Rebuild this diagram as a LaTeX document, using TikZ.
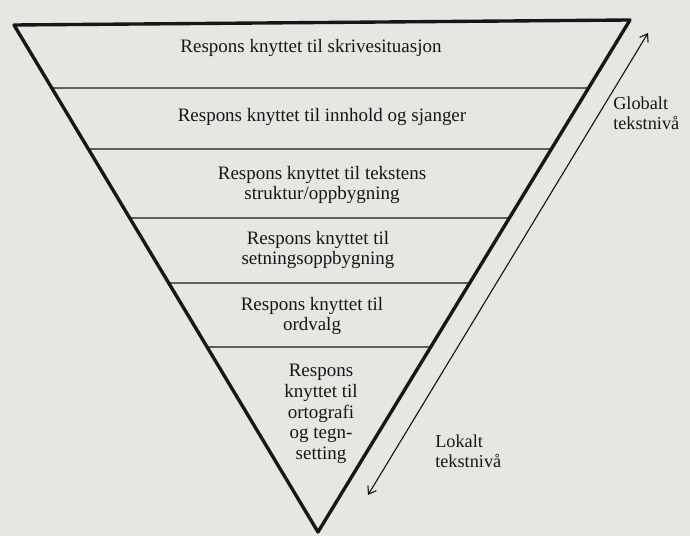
\documentclass[tikz,border=0pt]{standalone}
\usepackage{fontspec}
\setmainfont{Liberation Serif}
\usetikzlibrary{calc,arrows.meta}
\definecolor{paper}{RGB}{230,230,227}
\definecolor{ink}{RGB}{22,22,22}

\begin{document}
\begin{tikzpicture}[x=0.025cm,y=-0.025cm,>={Straight Barb[length=5pt,width=7pt]},line join=round,line cap=round,
  lvl/.style={align=center,font=\fontsize{13.5}{14.8}\selectfont,text=ink,inner sep=0pt},
  side/.style={align=left,font=\fontsize{13}{14}\selectfont,text=ink,inner sep=0pt}]
\fill[paper] (0,0) rectangle (690,536);
\useasboundingbox (0,0) rectangle (690,536);
\coordinate (tl) at (14,25);
\coordinate (tr) at (630,20);
\coordinate (bt) at (318,532);
\draw[ink,line width=2.4pt] (tl) -- (tr) -- (bt) -- cycle;
\foreach \y in {88,149,218,283,347}{
    \draw[ink,line width=1pt] ($(tl)!{(\y-25)/507}!(bt)$) -- ($(tr)!{(\y-20)/512}!(bt)$);
}
\node[lvl] (skriv) at (311,48) {Respons knyttet til skrivesituasjon};
\node[lvl] (innhold) at (322,117) {Respons knyttet til innhold og sjanger};
\node[lvl] (struktur) at (322,185) {Respons knyttet til tekstens\\struktur/oppbygning};
\node[lvl] (setning) at (318,250) {Respons knyttet til\\setningsoppbygning};
\node[lvl] (ordvalg) at (312,316) {Respons knyttet til\\ordvalg};
\node[lvl] (orto) at (321,414) {Respons\\knyttet til\\ortografi\\og tegn-\\setting};
\coordinate (glob) at (648,33);
\coordinate (lok) at (368,495);
\draw[ink,line width=0.8pt,<->] (lok) -- (glob);
\node[side,anchor=west] (globalt) at (613,113) {Globalt\\tekstnivå};
\node[side,anchor=west] (lokalt) at (435,451) {Lokalt\\tekstnivå};
\end{tikzpicture}
\end{document}
